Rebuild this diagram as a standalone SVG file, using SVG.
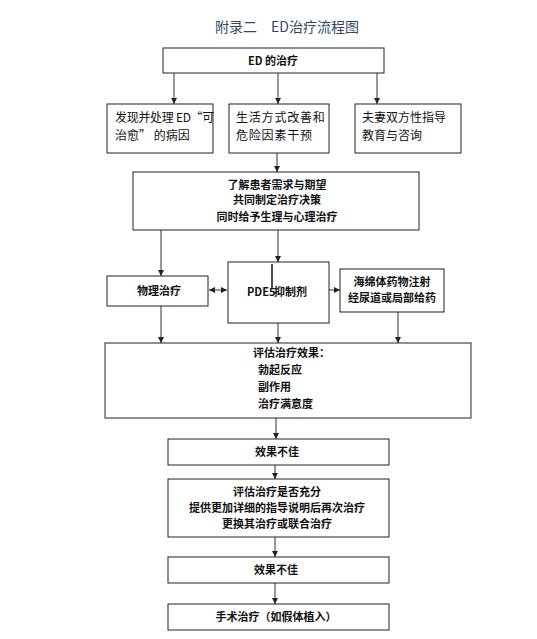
<svg xmlns="http://www.w3.org/2000/svg" width="537" height="639" viewBox="0 0 537 639">
<style>
.box{fill:#fff;stroke:#222;stroke-width:1}
.t{font-family:"Noto Sans CJK SC","Liberation Sans",sans-serif;font-size:11px;font-weight:bold;fill:#111}
.r{font-family:"Noto Sans CJK SC","Liberation Sans",sans-serif;font-size:12px;fill:#111}
.c{stroke:#333;stroke-width:1;fill:none}
.title{font-family:"Noto Sans CJK SC","Liberation Sans",sans-serif;font-size:14px;fill:#2c4a66}
</style>
<defs>
<marker id="ah" markerWidth="7" markerHeight="7" refX="6" refY="3.5" orient="auto" markerUnits="userSpaceOnUse">
<path d="M0,0.5 L6,3.5 L0,6.5 z" fill="#222"/>
</marker>
<marker id="as" markerWidth="7" markerHeight="7" refX="0" refY="3.5" orient="auto" markerUnits="userSpaceOnUse">
<path d="M6,0.5 L0,3.5 L6,6.5 z" fill="#222"/>
</marker>
</defs>
<rect width="537" height="639" fill="#fff"/>
<text class="title" x="287" y="32" text-anchor="middle">附录二　ED治疗流程图</text>

<g id="connectors">
<line class="c" x1="174" y1="73" x2="174" y2="104" marker-end="url(#ah)"/>
<line class="c" x1="278" y1="73" x2="278" y2="104" marker-end="url(#ah)"/>
<line class="c" x1="377" y1="73" x2="377" y2="104" marker-end="url(#ah)"/>
<line class="c" x1="277" y1="153" x2="277" y2="172" marker-end="url(#ah)"/>
<line class="c" x1="161" y1="230" x2="161" y2="276" marker-end="url(#ah)"/>
<line class="c" x1="278" y1="230" x2="278" y2="262" marker-end="url(#ah)"/>
<line class="c" x1="209" y1="290" x2="227" y2="290" marker-start="url(#as)" marker-end="url(#ah)"/>
<line class="c" x1="329" y1="290" x2="340" y2="290" marker-end="url(#ah)"/>
<line class="c" x1="161" y1="306" x2="161" y2="343" marker-end="url(#ah)"/>
<line class="c" x1="278" y1="323" x2="278" y2="343" marker-end="url(#ah)"/>
<line class="c" x1="398" y1="312" x2="398" y2="343" marker-end="url(#ah)"/>
<line class="c" x1="276" y1="418" x2="276" y2="439" marker-end="url(#ah)"/>
<line class="c" x1="275" y1="465" x2="275" y2="479" marker-end="url(#ah)"/>
<line class="c" x1="275" y1="537" x2="275" y2="557" marker-end="url(#ah)"/>
<line class="c" x1="275" y1="583" x2="275" y2="604" marker-end="url(#ah)"/>
</g>

<g id="n_ed">
<rect class="box" x="163" y="48" width="221" height="25"/>
<text class="t" x="273" y="64.5" text-anchor="middle">ED 的治疗</text>
</g>

<g id="n_cause">
<rect class="box" x="107" y="104" width="106" height="49"/>
<text class="r" x="115" y="122" font-size="11.5" letter-spacing="-0.3">发现并处理 ED“可</text>
<text class="r" x="115" y="140" font-size="11.5">治愈” 的病因</text>
</g>

<g id="n_life">
<rect class="box" x="229" y="104" width="100" height="49"/>
<text class="r" x="236" y="122" letter-spacing="0.8">生活方式改善和</text>
<text class="r" x="236" y="140" letter-spacing="0.8">危险因素干预</text>
</g>

<g id="n_couple">
<rect class="box" x="355" y="104" width="106" height="49"/>
<text class="r" x="362" y="122">夫妻双方性指导</text>
<text class="r" x="362" y="140">教育与咨询</text>
</g>

<g id="n_understand">
<rect class="box" x="133" y="172" width="286" height="58"/>
<text class="t" x="277" y="189" text-anchor="middle">了解患者需求与期望</text>
<text class="t" x="277" y="204" text-anchor="middle">共同制定治疗决策</text>
<text class="t" x="277" y="221" text-anchor="middle">同时给予生理与心理治疗</text>
</g>

<g id="n_physical">
<rect class="box" x="107" y="276" width="101" height="30"/>
<text class="t" x="159" y="295" text-anchor="middle">物理治疗</text>
</g>

<g id="n_pde5">
<rect class="box" x="228" y="262" width="101" height="61"/>
<line x1="272" y1="264" x2="272" y2="289" stroke="#111" stroke-width="1.5"/>
<text class="t" x="247" y="296" font-size="9.5">PDE5</text>
<text class="t" x="274" y="296" font-size="12">抑制剂</text>
</g>

<g id="n_inject">
<rect class="box" x="340" y="269" width="104" height="43"/>
<text class="t" x="392" y="286" text-anchor="middle">海绵体药物注射</text>
<text class="t" x="392" y="302" text-anchor="middle">经尿道或局部给药</text>
</g>

<g id="n_eval">
<rect class="box" x="105" y="343" width="366" height="75"/>
<text class="t" x="253" y="357">评估治疗效果：</text>
<text class="t" x="258" y="374">勃起反应</text>
<text class="t" x="258" y="391">副作用</text>
<text class="t" x="258" y="408">治疗满意度</text>
</g>

<g id="n_poor1">
<rect class="box" x="168" y="439" width="221" height="26"/>
<text class="t" x="277" y="456" text-anchor="middle">效果不佳</text>
</g>

<g id="n_reeval">
<rect class="box" x="168" y="479" width="221" height="58"/>
<text class="t" x="277" y="496" text-anchor="middle">评估治疗是否充分</text>
<text class="t" x="277" y="512" text-anchor="middle">提供更加详细的指导说明后再次治疗</text>
<text class="t" x="277" y="528" text-anchor="middle">更换其治疗或联合治疗</text>
</g>

<g id="n_poor2">
<rect class="box" x="168" y="557" width="221" height="26"/>
<text class="t" x="276" y="574" text-anchor="middle">效果不佳</text>
</g>

<g id="n_surgery">
<rect class="box" x="168" y="604" width="221" height="26"/>
<text class="t" x="276" y="621" text-anchor="middle">手术治疗（如假体植入）</text>
</g>
</svg>
